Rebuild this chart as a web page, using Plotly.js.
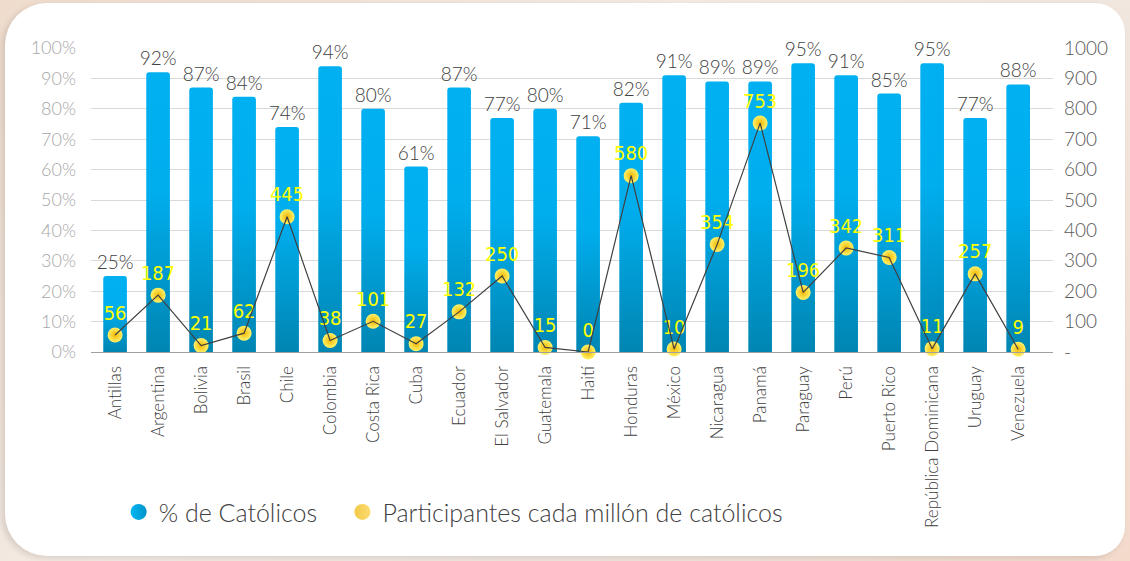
<!DOCTYPE html>
<html>
<head>
<meta charset="utf-8">
<script src="https://cdn.plot.ly/plotly-3.0.1.min.js"></script>
<style>
  html, body { margin:0; padding:0; width:1130px; height:561px; overflow:hidden;
    background: linear-gradient(135deg, #efdccd 0%, #f4ebe4 40%, #f1e6de 70%, #f3dacb 100%); }
  #panel { position:absolute; left:5px; top:3px; width:1120px; height:553px; background:#ffffff;
    border-radius:42px 30px 30px 42px; box-shadow: -3px 2px 6px rgba(0,0,0,0.12); }
  #chart { position:absolute; left:0; top:0; width:1130px; height:561px; }
</style>
</head>
<body>
<div id="panel"></div>
<div id="chart"></div>
<script>
const countries = ["Antillas","Argentina","Bolivia","Brasil","Chile","Colombia","Costa Rica","Cuba","Ecuador","El Salvador","Guatemala","Haití","Honduras","México","Nicaragua","Panamá","Paraguay","Perú","Puerto Rico","República Dominicana","Uruguay","Venezuela"];
const pctCatholics = [25,92,87,84,74,94,80,61,87,77,80,71,82,91,89,89,95,91,85,95,77,88];
const participants = [56,187,21,62,445,38,101,27,132,250,15,0,580,10,354,753,196,342,311,11,257,9];
const leftTickVals = [0,10,20,30,40,50,60,70,80,90,100];
const leftTickText = ["0%","10%","20%","30%","40%","50%","60%","70%","80%","90%","100%"];
const rightTickVals = [0,100,200,300,400,500,600,700,800,900,1000];
const rightTickText = ["-","100","200","300","400","500","600","700","800","900","1000"];
const seriesNames = ["% de Católicos","Participantes cada millón de católicos"];

const LIGHT = 300;
const barTrace = {
  type:'bar', x:countries, y:pctCatholics, name:seriesNames[0], showlegend:false,
  marker:{color:'#00b0f0', cornerradius:3},
  text:pctCatholics.map(v=>v+'%'), textposition:'outside', cliponaxis:false, constraintext:'none',
  textfont:{family:'Lato, sans-serif', size:19, color:'#404040', weight:LIGHT},
  hoverinfo:'x+y'
};
const markerTrace = {
  type:'scatter', mode:'markers+text', x:countries, y:participants, yaxis:'y2',
  name:seriesNames[1], showlegend:false,
  marker:{size:15, color:'#fff26a', gradient:{type:'radial', color:'#f2b705'}, line:{width:0}},
  text:participants.map(String), textposition:'top center', cliponaxis:false,
  textfont:{family:'"DejaVu Sans Condensed", "Liberation Sans Narrow", Lato, sans-serif', size:20, color:'#ffff00'}
};
const lineTrace = {
  type:'scatter', mode:'lines', x:countries, y:participants, yaxis:'y2',
  name:seriesNames[1], showlegend:false, cliponaxis:false,
  line:{color:'#404040', width:1.2}, hoverinfo:'skip'
};
const legBlue = {type:'scatter', mode:'markers', x:[countries[0]], y:[null], name:seriesNames[0] + '\u00a0\u00a0\u00a0',
  marker:{size:17, color:'#00b8f4', gradient:{type:'horizontal', color:'#0092c8'}}, hoverinfo:'skip'};
const legYellow = {type:'scatter', mode:'markers', x:[countries[0]], y:[null], name:seriesNames[1],
  marker:{size:17, color:'#f3c84a', gradient:{type:'horizontal', color:'#fbdc70'}}, hoverinfo:'skip'};

const layout = {
  width:1130, height:561,
  paper_bgcolor:'rgba(0,0,0,0)', plot_bgcolor:'rgba(0,0,0,0)',
  margin:{l:91, r:77, t:48, b:209},
  bargap:0.45,
  font:{family:'Lato, sans-serif', color:'#404040', weight:LIGHT},
  xaxis:{type:'category', range:[-0.56, 21.81], automargin:false,
    tickangle:-90, tickfont:{size:17, color:'#404040', weight:LIGHT}, showline:true, linecolor:'#a0a0a0', linewidth:1.3,
    ticks:'', showgrid:false, ticklabelstandoff:6, fixedrange:true},
  yaxis:{range:[0,100], automargin:false, tickvals:leftTickVals, ticktext:leftTickText, showgrid:true, gridcolor:'#d9d9d9',
    gridwidth:1, zeroline:false, tickfont:{size:18, color:'#a6a6a6', weight:LIGHT}, ticklabelstandoff:14, fixedrange:true},
  yaxis2:{range:[0,1000], automargin:false, overlaying:'y', side:'right', tickvals:rightTickVals, ticktext:rightTickText,
    showgrid:false, zeroline:false, tickfont:{size:19, color:'#595959', weight:LIGHT}, ticklabelstandoff:10, fixedrange:true},
  showlegend:true,
  legend:{orientation:'h', xref:'container', yref:'container', x:0.105, y:0.087, xanchor:'left', yanchor:'middle',
    font:{size:25, color:'#404040', weight:LIGHT}, bgcolor:'rgba(0,0,0,0)', itemclick:false, itemdoubleclick:false, tracegroupgap:0}
};

Plotly.newPlot('chart', [barTrace, markerTrace, lineTrace, legBlue, legYellow], layout, {displayModeBar:false, staticPlot:true}).then(function(gd){
  const svg = gd.querySelector('svg.main-svg');
  let defs = svg.querySelector('defs');
  const ns = 'http://www.w3.org/2000/svg';
  const lg = document.createElementNS(ns, 'linearGradient');
  lg.setAttribute('id','barGrad'); lg.setAttribute('x1','0'); lg.setAttribute('y1','0');
  lg.setAttribute('x2','0'); lg.setAttribute('y2','1');
  [['0','#00b0f0'],['0.42','#00aeee'],['1','#0085b2']].forEach(function(s){
    const st = document.createElementNS(ns,'stop'); st.setAttribute('offset', s[0]); st.setAttribute('stop-color', s[1]); lg.appendChild(st);
  });
  defs.appendChild(lg);
  gd.querySelectorAll('.barlayer .point path').forEach(function(p){ p.style.fill = 'url(#barGrad)'; });
});
</script>
</body>
</html>
